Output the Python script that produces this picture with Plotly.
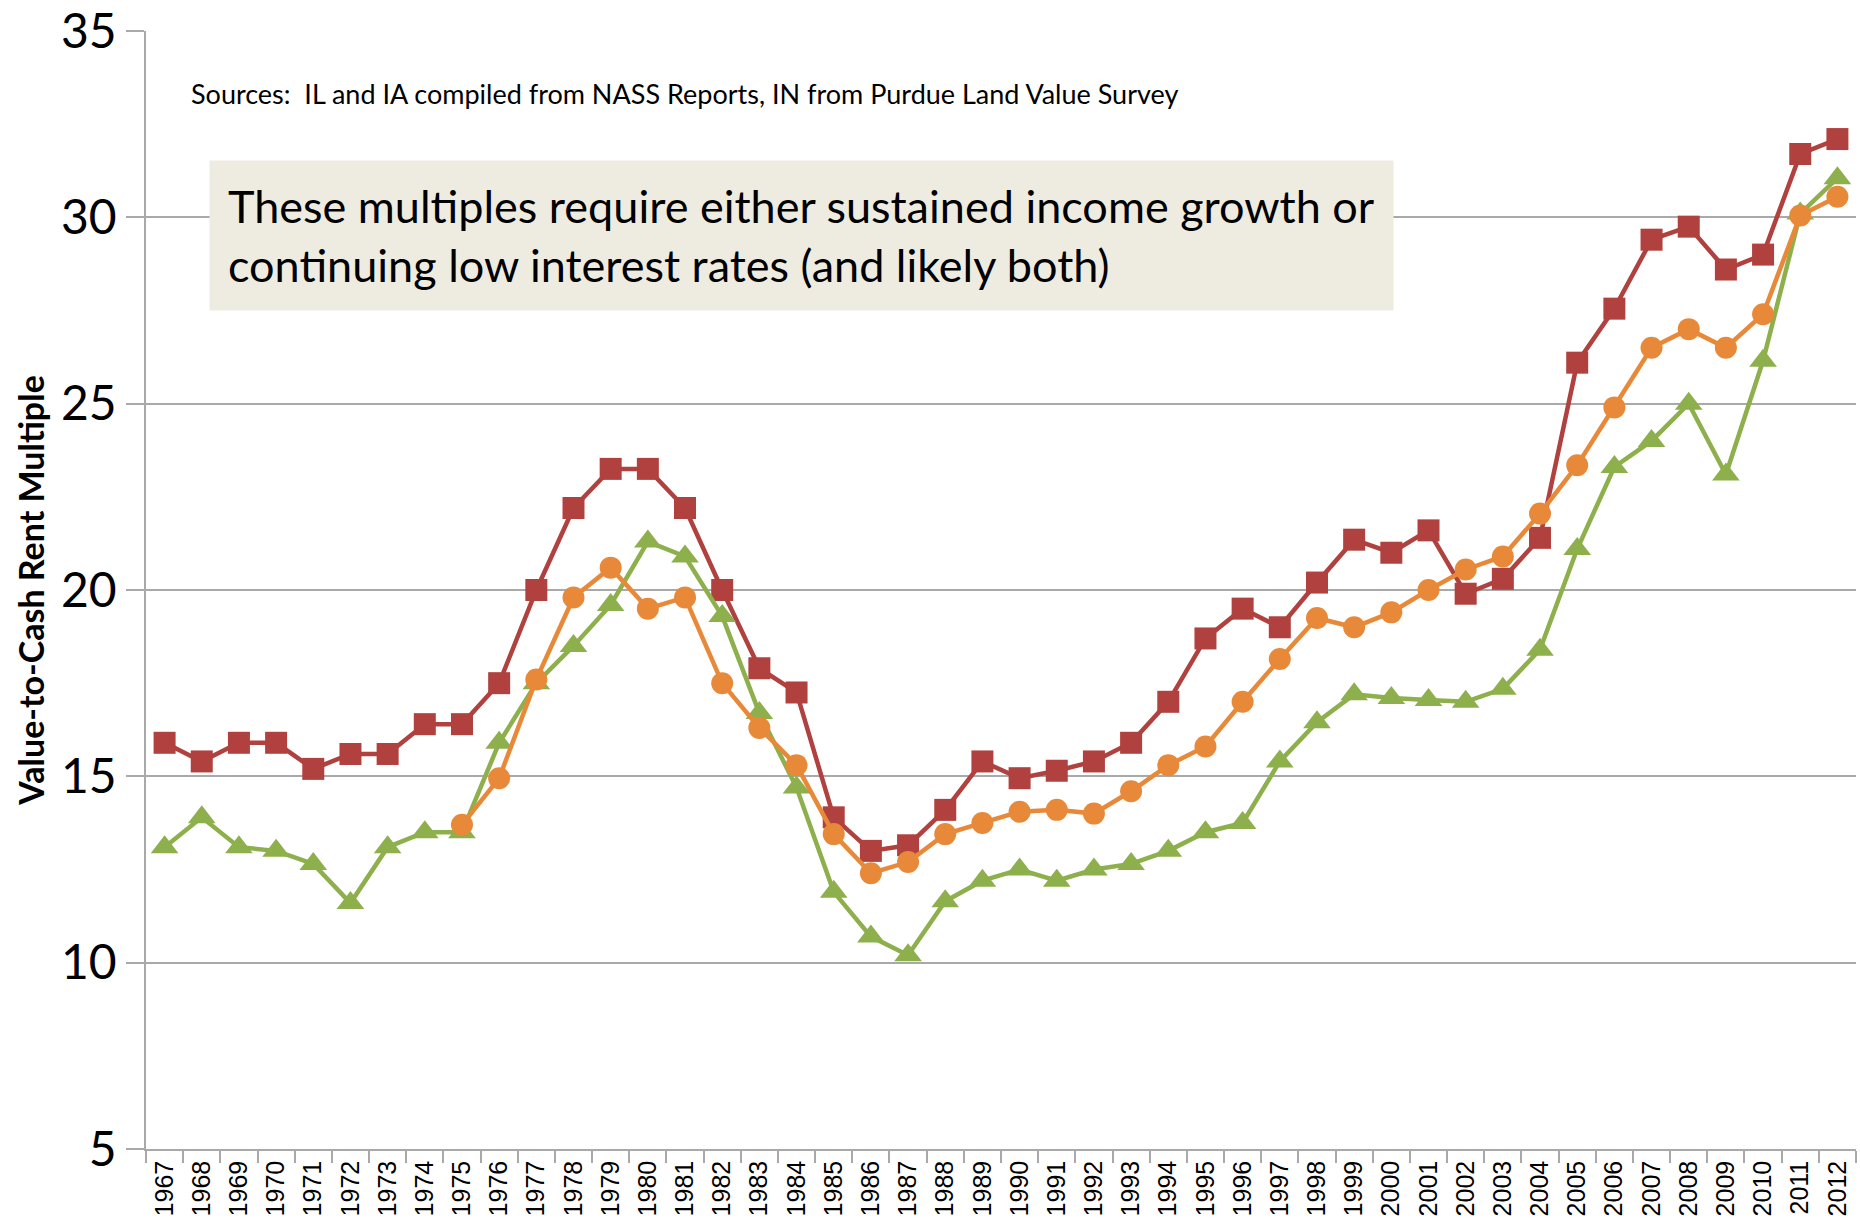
import plotly.graph_objects as go

# Value-to-cash-rent multiples, 1967-2012
years = [str(y) for y in range(1967, 2013)]

illinois = [15.9, 15.4, 15.9, 15.9, 15.2, 15.6, 15.6, 16.4, 16.4, 17.5,
            20.0, 22.2, 23.25, 23.25, 22.2, 20.0, 17.9, 17.25, 13.9, 13.0,
            13.15, 14.1, 15.4, 14.95, 15.15, 15.4, 15.9, 17.0, 18.7, 19.5,
            19.0, 20.2, 21.35, 21.0, 21.6, 19.9, 20.3, 21.4, 26.1, 27.55,
            29.4, 29.75, 28.6, 29.0, 31.7, 32.1]

indiana = [None, None, None, None, None, None, None, None, 13.7, 14.95,
           17.6, 19.8, 20.6, 19.5, 19.8, 17.5, 16.3, 15.3, 13.45, 12.4,
           12.7, 13.45, 13.75, 14.05, 14.1, 14.0, 14.6, 15.3, 15.8, 17.0,
           18.15, 19.25, 19.0, 19.4, 20.0, 20.55, 20.9, 22.05, 23.35, 24.9,
           26.5, 27.0, 26.5, 27.4, 30.05, 30.55]

iowa = [13.1, 13.9, 13.1, 13.0, 12.65, 11.6, 13.1, 13.5, 13.5, 15.9,
        17.5, 18.5, 19.6, 21.3, 20.9, 19.3, 16.7, 14.7, 11.9, 10.7,
        10.2, 11.65, 12.2, 12.5, 12.2, 12.5, 12.65, 13.0, 13.5, 13.75,
        15.4, 16.45, 17.2, 17.1, 17.05, 17.0, 17.35, 18.4, 21.1, 23.3,
        24.0, 25.0, 23.1, 26.15, 30.1, 31.05]

RED = "#B0413E"
ORANGE = "#E8893A"
GREEN = "#8DB04C"
GRID = "#A9A9A9"

fig = go.Figure()

fig.add_trace(go.Scatter(
    x=years, y=illinois, name="IL", mode="lines+markers",
    line=dict(color=RED, width=4.5),
    marker=dict(symbol="square", size=22, color=RED),
))
fig.add_trace(go.Scatter(
    x=years, y=iowa, name="IA", mode="lines+markers",
    line=dict(color=GREEN, width=4.5),
    marker=dict(symbol="triangle-up", size=24, color=GREEN),
))
fig.add_trace(go.Scatter(
    x=years, y=indiana, name="IN", mode="lines+markers",
    line=dict(color=ORANGE, width=4.5),
    marker=dict(symbol="circle", size=22, color=ORANGE),
    connectgaps=False,
))

fig.update_layout(
    width=1860, height=1225,
    margin=dict(l=146, r=4, t=31, b=76),
    paper_bgcolor="white", plot_bgcolor="white",
    showlegend=False,
    font=dict(family="Lato, Open Sans, sans-serif", color="black"),
)

fig.update_xaxes(
    type="category",
    range=[-0.5, len(years) - 0.5],
    tickson="boundaries",
    ticks="outside", ticklen=12, tickcolor=GRID, tickwidth=1.5,
    showgrid=False,
    showline=True, linecolor=GRID, linewidth=1.5,
    tickangle=-90,
    automargin=False,
    tickfont=dict(family="Liberation Sans, Arial, sans-serif", size=25, color="black"),
)

fig.update_yaxes(
    range=[5, 35], dtick=5, tick0=5,
    showgrid=True, gridcolor=GRID, gridwidth=1.5,
    ticks="outside", ticklen=18, tickcolor=GRID, tickwidth=1.5,
    showline=True, linecolor=GRID, linewidth=1.5,
    zeroline=False,
    automargin=False,
    ticklabeloverflow="allow",
    tickfont=dict(family="Lato, sans-serif", size=48, color="black"),
    title=dict(text="<b>Value-to-Cash Rent Multiple</b>",
               font=dict(family="Lato, sans-serif", size=34, color="black"),
               standoff=6),
)

fig.add_annotation(
    xref="paper", yref="paper", x=0.025, y=0.944,
    xanchor="left", yanchor="middle",
    text="Sources:  IL and IA compiled from NASS Reports, IN from Purdue Land Value Survey",
    showarrow=False,
    font=dict(family="Lato, sans-serif", size=27, color="black"),
)

fig.add_annotation(
    xref="paper", yref="paper", x=0.037, y=0.817,
    xanchor="left", yanchor="middle", align="left",
    text="These multiples require either sustained income growth or<br>"
         "continuing low interest rates (and likely both)",
    showarrow=False,
    bgcolor="#EEECE1",
    borderpad=18,
    font=dict(family="Lato, sans-serif", size=45, color="black"),
)

fig.write_html("out.html")
